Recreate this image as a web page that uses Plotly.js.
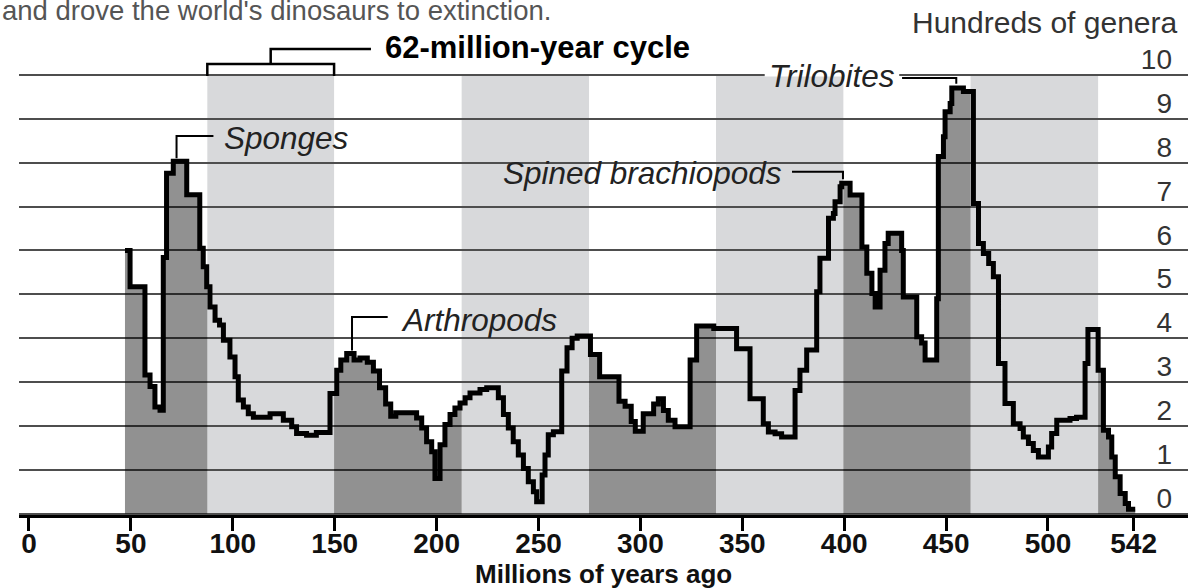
<!DOCTYPE html>
<html>
<head>
<meta charset="utf-8">
<script src="https://cdn.plot.ly/plotly-3.0.1.min.js"></script>
<style>
html,body{margin:0;padding:0;background:#fff;overflow:hidden;}
#chart{width:1204px;height:588px;}
</style>
</head>
<body>
<div id="chart"></div>
<script>
// ---- data ----
// Age in millions of years ago, step curve (value holds until next age)
const ageMa = [
  47.1, 49.6, 56.9, 59.4, 61.8, 64.3, 65.9, 67.5, 70.8, 77.4,
  83.8, 85.5, 87.2, 88.8, 91.3, 93.5, 95.4, 98.6, 101.1, 102.7,
  105.2, 107.6, 110.1, 118.3, 124.8, 128.9, 131.3, 136.2, 141.0, 147.7,
  151.0, 153.0, 155.9, 159.5, 162.4, 166.0, 169.0, 172.0, 175.0, 177.5,
  180.0, 190.2, 192.7, 195.1, 197.6, 199.2, 201.7, 204.1, 206.6, 209.0,
  211.5, 214.0, 216.4, 221.3, 224.6, 230.3, 232.8, 235.2, 237.6, 240.1,
  242.6, 245.0, 247.5, 249.1, 251.8, 253.2, 254.8, 257.3, 261.4, 264.0,
  266.5, 269.0, 275.5, 280.0, 289.5, 292.5, 295.5, 297.5, 301.4, 306.5,
  308.8, 311.3, 313.7, 317.0, 324.4, 327.6, 336.0, 347.2, 353.8, 360.3,
  362.8, 366.1, 369.3, 375.9, 378.3, 381.6, 386.5, 388.1, 392.3, 394.7,
  395.5, 398.0, 398.8, 402.9, 408.7, 411.1, 413.6, 415.2, 417.6, 420.0,
  421.6, 428.2, 429.0, 435.6, 438.0, 439.7, 445.4, 446.2, 448.7, 449.5,
  452.0, 452.8, 458.5, 463.4, 465.9, 468.3, 470.9, 473.2, 475.7, 478.9,
  483.0, 486.3, 487.9, 490.4, 492.8, 495.3, 500.2, 501.8, 504.3, 510.8,
  514.0, 518.2, 519.6, 524.6, 527.2, 529.7, 531.3, 533.0, 535.4, 537.9,
  539.5, 542.8
];
// Hundreds of genera
const genera = [
  6.00, 5.17, 3.16, 2.90, 2.43, 2.36, 5.84, 7.76, 8.03, 7.27,
  6.05, 5.63, 5.17, 4.71, 4.41, 4.30, 3.95, 3.57, 3.12, 2.59,
  2.43, 2.28, 2.20, 2.28, 2.13, 1.98, 1.83, 1.79, 1.85, 2.74,
  3.27, 3.50, 3.65, 3.50, 3.55, 3.45, 3.25, 2.87, 2.50, 2.22,
  2.30, 2.18, 1.95, 1.64, 1.41, 0.80, 1.57, 2.03, 2.26, 2.41,
  2.52, 2.64, 2.75, 2.83, 2.87, 2.64, 2.26, 1.95, 1.64, 1.34,
  1.03, 0.73, 0.50, 0.27, 0.88, 1.34, 1.80, 1.87, 3.25, 3.78,
  4.00, 4.05, 3.63, 3.12, 2.56, 2.45, 2.10, 1.88, 2.28, 2.50,
  2.62, 2.35, 2.13, 1.98, 3.50, 4.28, 4.22, 3.76, 2.62, 2.05,
  1.86, 1.82, 1.75, 2.81, 3.27, 3.73, 5.06, 5.82, 6.73, 6.84,
  7.11, 7.45, 7.53, 7.26, 6.08, 5.48, 5.02, 4.71, 5.55, 6.16,
  6.39, 6.00, 4.94, 4.03, 3.89, 3.50, 4.90, 8.14, 8.59, 9.16,
  9.35, 9.70, 9.62, 7.07, 6.16, 5.93, 5.70, 5.40, 3.42, 2.51,
  2.05, 1.94, 1.75, 1.60, 1.44, 1.29, 1.52, 1.83, 2.13, 2.17,
  2.20, 3.42, 4.20, 3.27, 1.90, 1.75, 1.29, 0.84, 0.46, 0.23,
  0.10, 0.10
];
// 62-million-year cycle: shaded (light) bands
const bandStart = [87.5, 212.3, 337.1, 462.0];
const bandEnd   = [149.7, 274.8, 399.6, 524.6];
// Tick labels
const xTickVals = [0, 50, 100, 150, 200, 250, 300, 350, 400, 450, 500, 542];
const xTickText = ['0', '50', '100', '150', '200', '250', '300', '350', '400', '450', '500', '542'];
const yTickVals = [0, 1, 2, 3, 4, 5, 6, 7, 8, 9, 10];
const yTickText = ['0', '1', '2', '3', '4', '5', '6', '7', '8', '9', '10'];

// ---- helpers ----
function valueAt(t) {
  let v = genera[0];
  for (let i = 0; i < ageMa.length; i++) {
    if (ageMa[i] <= t) v = genera[i]; else break;
  }
  return v;
}
function stepSegment(a, b) {
  const x = [a], y = [valueAt(a)];
  for (let i = 0; i < ageMa.length; i++) {
    if (ageMa[i] > a && ageMa[i] < b) { x.push(ageMa[i]); y.push(genera[i]); }
  }
  x.push(b); y.push(y[y.length - 1]);
  return {x, y};
}

// dark regions = gaps between light bands, within the curve's span
const first = ageMa[0], last = ageMa[ageMa.length - 1];
const darkRegions = [[first, bandStart[0]]];
for (let i = 0; i < bandStart.length - 1; i++) darkRegions.push([bandEnd[i], bandStart[i + 1]]);
darkRegions.push([bandEnd[bandEnd.length - 1], last]);

const traces = [];
darkRegions.forEach(r => {
  const s = stepSegment(r[0], r[1]);
  traces.push({
    type: 'scatter', mode: 'lines', x: s.x, y: s.y,
    line: {shape: 'hv', width: 0, color: 'rgba(0,0,0,0)'},
    fill: 'tozeroy', fillcolor: 'rgba(0,0,0,0.43)',
    hoverinfo: 'skip', showlegend: false
  });
});
traces.push({
  type: 'scatter', mode: 'lines', x: ageMa, y: genera,
  line: {shape: 'hv', width: 5, color: '#000'},
  showlegend: false
});

const M = {l: 19, r: 16, t: 40, b: 73};
const plotBottom = 588 - M.b, plotH = 588 - M.t - M.b;
const P = py => (plotBottom - py) / plotH; // pixel row -> paper coordinate

const shapes = [];
for (let i = 0; i < bandStart.length; i++) {
  shapes.push({type: 'rect', layer: 'below', xref: 'x', yref: 'y',
    x0: bandStart[i], x1: bandEnd[i], y0: 0, y1: 10,
    fillcolor: '#d8d9db', line: {width: 0}});
}
// knock-out of the top grid line behind the "Trilobites" label
shapes.push({type: 'rect', layer: 'between', xref: 'x', yref: 'y',
  x0: 361, x1: 427, y0: 9.965, y1: 10.04, fillcolor: '#ffffff', line: {width: 0}});

// bracket for the 62-million-year cycle
const bx0 = bandStart[0], bx1 = bandEnd[0], bmid = (bx0 + bx1) / 2;
shapes.push({type: 'path', xref: 'x', yref: 'paper',
  path: `M ${bx0},${P(76)} L ${bx0},${P(64)} L ${bx1},${P(64)} L ${bx1},${P(76)}`,
  line: {color: '#000', width: 2.5}});
shapes.push({type: 'path', xref: 'x', yref: 'paper',
  path: `M ${bmid},${P(64)} L ${bmid},${P(49)} L 167.8,${P(49)}`,
  line: {color: '#000', width: 2.5}});

// leader lines
const leader = (pts) => ({type: 'path', layer: 'above', xref: 'x', yref: 'y',
  path: 'M ' + pts.map(p => p[0] + ',' + p[1]).join(' L '),
  line: {color: '#000', width: 2}});
shapes.push(leader([[72.4, 8.1], [72.4, 8.61], [90.5, 8.61]]));
shapes.push(leader([[158.5, 3.72], [158.5, 4.48], [176, 4.48]]));
shapes.push(leader([[399.4, 7.62], [399.4, 7.79], [374.4, 7.79]]));
shapes.push(leader([[455, 9.8], [455, 9.93], [428.4, 9.93]]));

const italic = {family: 'Liberation Sans, Arial, sans-serif', size: 31.5, color: '#222', style: 'italic'};
const annotations = [
  {text: 'Sponges', xref: 'x', yref: 'y', x: 94.5, y: 8.56, xanchor: 'left', yanchor: 'middle', showarrow: false, font: italic},
  {text: 'Arthropods', xref: 'x', yref: 'y', x: 181.5, y: 4.42, xanchor: 'left', yanchor: 'middle', showarrow: false, font: italic},
  {text: 'Spined brachiopods', xref: 'x', yref: 'y', x: 370.5, y: 7.77, xanchor: 'right', yanchor: 'middle', showarrow: false, font: italic},
  {text: 'Trilobites', xref: 'x', yref: 'y', x: 362, y: 9.97, xanchor: 'left', yanchor: 'middle', showarrow: false, font: italic},
  {text: '<b>62-million-year cycle</b>', xref: 'x', yref: 'paper', x: 173.5, y: P(48), xanchor: 'left', yanchor: 'middle', showarrow: false,
   font: {family: 'Liberation Sans, Arial, sans-serif', size: 31, color: '#000'}},
  {text: 'Hundreds of genera', xref: 'paper', yref: 'paper', x: 1, y: P(22), xanchor: 'right', yanchor: 'middle', xshift: -9, showarrow: false,
   font: {family: 'Liberation Sans, Arial, sans-serif', size: 30, color: '#333'}},
  {text: "and drove the world's dinosaurs to extinction.", xref: 'paper', yref: 'paper', x: 0, y: P(10), xanchor: 'left', yanchor: 'middle', xshift: -19, showarrow: false,
   font: {family: 'Liberation Sans, Arial, sans-serif', size: 27.5, color: '#555'}},
  // x-axis title
  {text: '<b>Millions of years ago</b>', xref: 'paper', yref: 'paper', x: 0.5, y: P(574), xanchor: 'center', yanchor: 'middle', showarrow: false,
   font: {family: 'Liberation Sans, Arial, sans-serif', size: 26, color: '#111'}}
];

const layout = {
  width: 1204, height: 588,
  margin: {l: M.l, r: M.r, t: M.t, b: M.b, pad: 0},
  paper_bgcolor: '#fff', plot_bgcolor: 'rgba(0,0,0,0)',
  showlegend: false,
  xaxis: {
    range: [-4.9, 568.7], tickvals: xTickVals, ticktext: xTickText,
    showgrid: false, zeroline: false,
    showline: true, linecolor: '#000', linewidth: 3,
    ticks: 'outside', ticklen: 13, tickwidth: 3, tickcolor: '#000',
    ticklabelstandoff: -12,
    tickfont: {family: 'Liberation Sans, Arial, sans-serif', size: 28, color: '#111', weight: 'bold'},
    fixedrange: true
  },
  yaxis: {
    range: [-0.03, -0.03 + (588 - M.t - M.b) / 43.88], side: 'right', tickvals: yTickVals, ticktext: yTickText,
    ticklabelposition: 'inside top', ticks: '', ticklabelstandoff: 13, ticklabelshift: 4,
    showgrid: true, gridcolor: '#4e4e4e', gridwidth: 2, zeroline: false, showline: false,
    tickfont: {family: 'Liberation Sans, Arial, sans-serif', size: 28, color: '#333'},
    fixedrange: true
  },
  shapes: shapes,
  annotations: annotations
};

Plotly.newPlot('chart', traces, layout, {displayModeBar: false, staticPlot: true});
</script>
</body>
</html>
